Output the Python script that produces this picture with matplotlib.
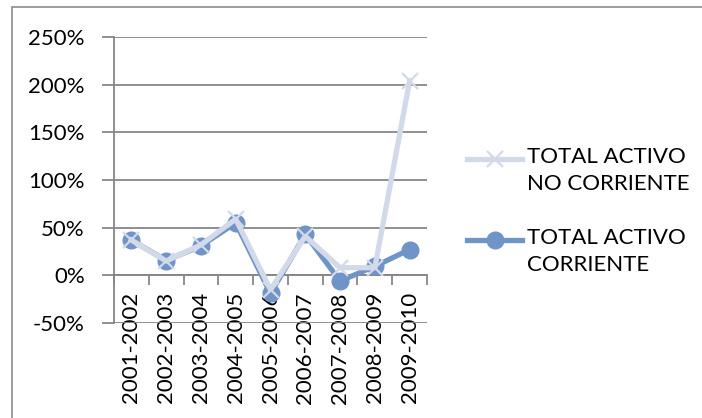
import numpy as np
import matplotlib.pyplot as plt
from matplotlib.patches import Rectangle
from matplotlib.lines import Line2D

# datos
periodos = ['2001-2002', '2002-2003', '2003-2004', '2004-2005', '2005-2006',
            '2006-2007', '2007-2008', '2008-2009', '2009-2010']
no_corriente = [37, 15, 32, 59, -15, 41, 8, 8, 204]
corriente = [37, 15.5, 31, 55, -19, 43, -6, 9.5, 27]
series = ['TOTAL ACTIVO\nNO CORRIENTE', 'TOTAL ACTIVO\nCORRIENTE']

c_oscuro = '#7094c8'
c_claro = '#d2d9e9'
gris = '#878787'

plt.rcParams['font.family'] = ['Lato', 'DejaVu Sans']

fig = plt.figure(figsize=(7.02, 4.18), dpi=100)
# marco exterior
fig.patches.append(Rectangle((12 / 702, -0.1), 1.0, 1 - 7 / 418 + 0.1,
                             transform=fig.transFigure, fill=False,
                             edgecolor='#8c8c8c', linewidth=1.2))

ax = fig.add_axes([114 / 702, 1 - 323 / 418, (427 - 114) / 702, (323 - 37) / 418])
x = np.arange(len(periodos))

ax.plot(x, corriente, color=c_oscuro, linewidth=3.8, marker='o',
        markersize=12, zorder=3)
ax.plot(x, no_corriente, color=c_claro, linewidth=3.8, marker='x',
        markersize=11, markeredgewidth=1.6, zorder=4)

ax.set_ylim(-50, 250)
ax.set_xlim(-0.5, len(periodos) - 0.5)
ax.set_yticks(np.arange(-50, 251, 50))
ax.set_yticklabels([f'{v}%' for v in range(-50, 251, 50)])
ax.yaxis.grid(True, color=gris, linewidth=1.3)
ax.set_axisbelow(True)
ax.tick_params(axis='y', length=9, color=gris, width=1.3, pad=12, labelsize=16)

ax.set_xticks(x)
ax.set_xticklabels(periodos)
ax.set_xticks(np.arange(-0.5, len(periodos), 1), minor=True)
ax.tick_params(axis='x', which='major', length=0, pad=12, labelrotation=90,
               labelsize=16)
ax.tick_params(axis='x', which='minor', length=7, color=gris, width=1.3)

for s in ['top', 'right']:
    ax.spines[s].set_visible(False)
ax.spines['bottom'].set_position(('data', 0))
ax.spines['bottom'].set_color(gris)
ax.spines['bottom'].set_linewidth(1.3)
ax.spines['left'].set_color(gris)
ax.spines['left'].set_linewidth(1.3)

# leyenda dibujada a mano (marcador alineado con la primera linea)
estilos = [dict(color=c_claro, marker='x', markersize=11, markeredgewidth=1.6),
           dict(color=c_oscuro, marker='o', markersize=12)]
for i, (nombre, est) in enumerate(zip(series, estilos)):
    yy = 1 - (159 + i * 81) / 418
    fig.add_artist(Line2D([467 / 702, 522 / 702], [yy, yy], linewidth=3.8,
                          color=est['color'], transform=fig.transFigure))
    fig.add_artist(Line2D([494.5 / 702], [yy], linestyle='none',
                          transform=fig.transFigure, **est))
    fig.text(527 / 702, yy + 12 / 418, nombre, fontsize=16, va='top',
             ha='left', linespacing=1.45)

fig.savefig('out.png', dpi=100)
